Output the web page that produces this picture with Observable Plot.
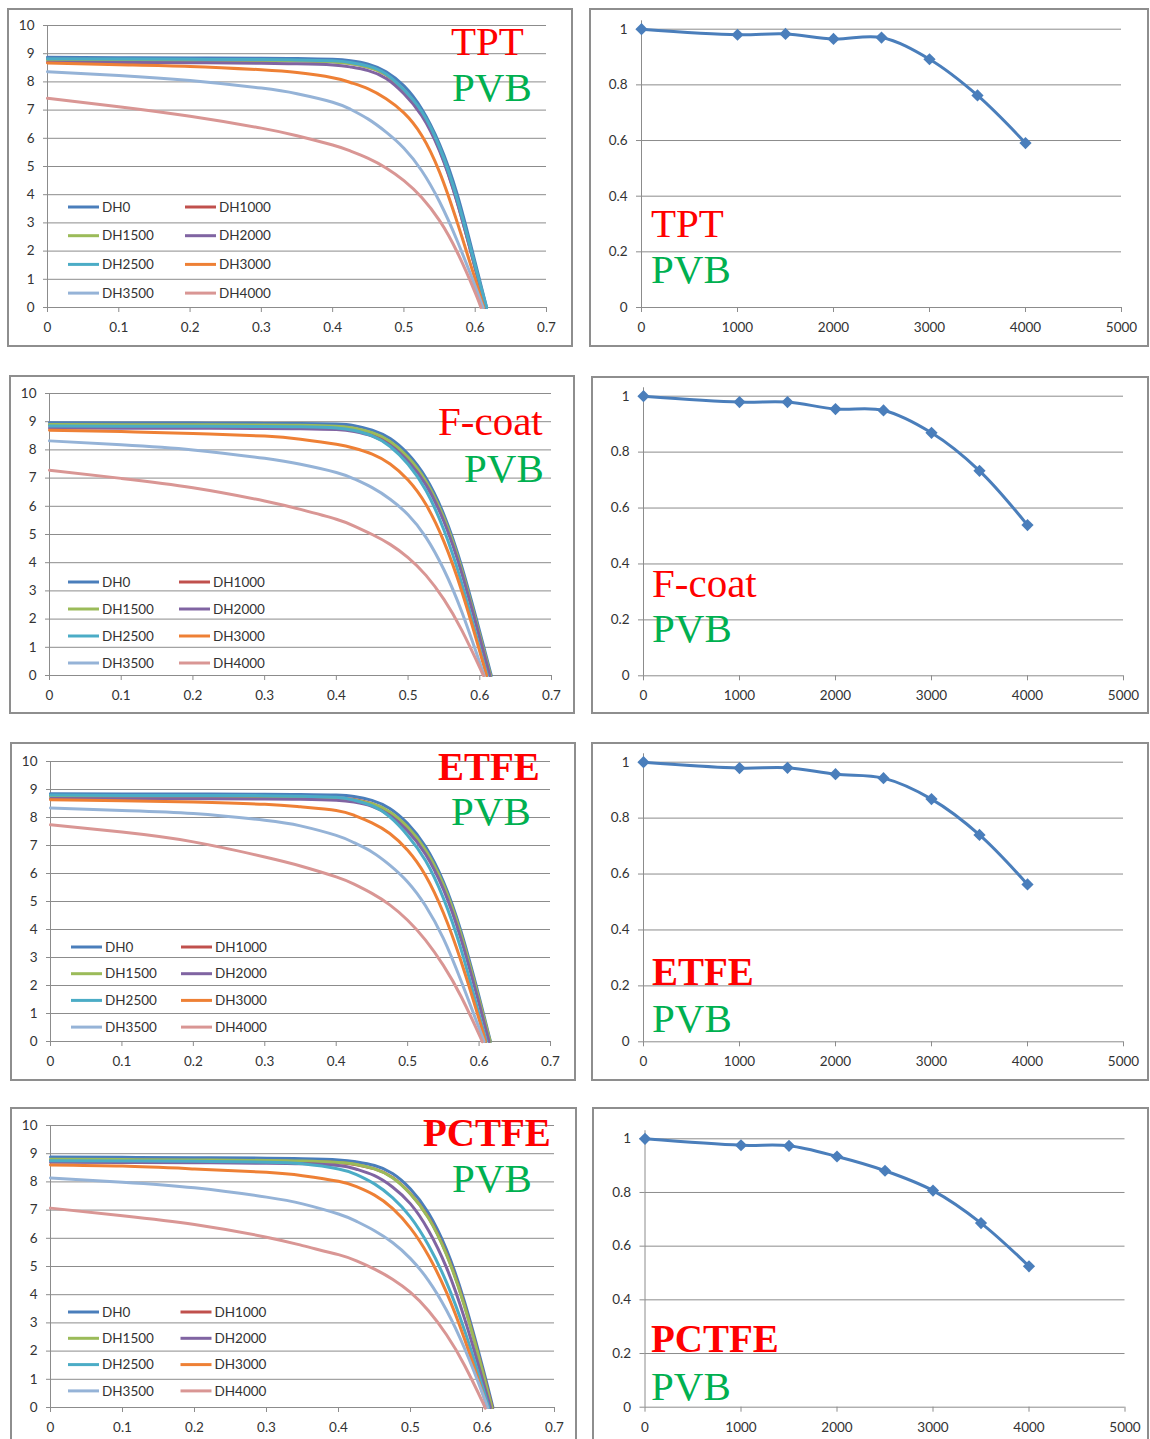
<!DOCTYPE html>
<html>
<head>
<meta charset="utf-8">
<script src="https://cdn.jsdelivr.net/npm/d3@7"></script>
<script src="https://cdn.jsdelivr.net/npm/@observablehq/plot@0.6"></script>
<style>
  html, body { margin: 0; padding: 0; background: #fff; }
  #page { position: relative; width: 1150px; height: 1439px; overflow: hidden; }
  .panel { position: absolute; outline: 2px solid #8e8e8e; outline-offset: -2px; background: #fff; }
  .panel svg { display: block; }
</style>
</head>
<body>
<div id="page"></div>
<script>
// Damp-heat exposure steps (hours) and legend names of the I-V curves
const series = ["DH0", "DH1000", "DH1500", "DH2000", "DH2500", "DH3000", "DH3500", "DH4000"];
const seriesColors = ["#4A7EBB", "#C0504D", "#9BBB59", "#8064A2", "#4BACC6", "#EE8035", "#95B3D7", "#D99694"];

// Front sheet of each module row; every module uses PVB as encapsulant
const frontSheets = ["TPT", "F-coat", "ETFE", "PCTFE"];
const encapsulant = "PVB";

// Voltage (V) at which each current is read
const voltage = [0, 0.1, 0.2, 0.3, 0.35, 0.4, 0.425, 0.45, 0.475, 0.5, 0.525, 0.55, 0.575, 0.6];

// Current (A) per curve, rows follow `series`; voc* is the open-circuit voltage of each curve
const ivTPT = [
  [8.87, 8.86, 8.85, 8.84, 8.83, 8.80, 8.75, 8.63, 8.36, 7.86, 7.04, 5.79, 3.99, 1.59],
  [8.80, 8.79, 8.78, 8.77, 8.76, 8.72, 8.66, 8.53, 8.25, 7.68, 6.88, 5.60, 3.72, 1.40],
  [8.78, 8.77, 8.76, 8.75, 8.74, 8.71, 8.65, 8.52, 8.25, 7.70, 6.92, 5.65, 3.78, 1.42],
  [8.70, 8.69, 8.68, 8.66, 8.64, 8.60, 8.53, 8.40, 8.12, 7.58, 6.80, 5.55, 3.70, 1.40],
  [8.82, 8.81, 8.80, 8.79, 8.78, 8.75, 8.69, 8.56, 8.28, 7.72, 6.95, 5.68, 3.82, 1.48],
  [8.67, 8.61, 8.55, 8.43, 8.33, 8.15, 7.98, 7.75, 7.40, 6.90, 6.10, 4.80, 3.00, 1.00],
  [8.36, 8.23, 8.05, 7.78, 7.58, 7.28, 7.03, 6.68, 6.22, 5.65, 4.85, 3.75, 2.35, 0.75],
  [7.42, 7.12, 6.78, 6.36, 6.09, 5.76, 5.55, 5.29, 4.95, 4.50, 3.90, 3.08, 1.95, 0.53]
];
const vocTPT = [0.616, 0.615, 0.615, 0.615, 0.616, 0.612, 0.611, 0.608];

const ivFcoat = [
  [8.96, 8.95, 8.95, 8.94, 8.94, 8.92, 8.86, 8.70, 8.40, 7.85, 7.00, 5.70, 3.85, 1.55],
  [8.88, 8.87, 8.87, 8.86, 8.85, 8.82, 8.75, 8.58, 8.25, 7.68, 6.83, 5.53, 3.68, 1.38],
  [8.90, 8.89, 8.89, 8.88, 8.87, 8.84, 8.77, 8.61, 8.30, 7.74, 6.88, 5.58, 3.73, 1.43],
  [8.78, 8.77, 8.77, 8.76, 8.75, 8.72, 8.65, 8.49, 8.17, 7.60, 6.76, 5.46, 3.62, 1.33],
  [8.85, 8.84, 8.84, 8.83, 8.82, 8.78, 8.69, 8.50, 8.12, 7.49, 6.56, 5.16, 3.26, 0.96],
  [8.70, 8.65, 8.58, 8.49, 8.38, 8.20, 8.06, 7.85, 7.50, 6.93, 6.06, 4.75, 2.98, 0.85],
  [8.32, 8.18, 8.00, 7.70, 7.49, 7.20, 6.97, 6.66, 6.25, 5.70, 4.90, 3.75, 2.25, 0.45],
  [7.28, 6.99, 6.66, 6.19, 5.89, 5.54, 5.30, 5.00, 4.65, 4.18, 3.55, 2.70, 1.60, 0.28]
];
const vocFcoat = [0.616, 0.6145, 0.615, 0.614, 0.6105, 0.6094, 0.606, 0.605];

const ivETFE = [
  [8.85, 8.84, 8.84, 8.83, 8.82, 8.80, 8.75, 8.61, 8.32, 7.78, 6.96, 5.71, 3.91, 1.60],
  [8.76, 8.75, 8.75, 8.74, 8.73, 8.70, 8.64, 8.49, 8.18, 7.62, 6.80, 5.56, 3.76, 1.46],
  [8.75, 8.74, 8.74, 8.73, 8.72, 8.69, 8.63, 8.49, 8.20, 7.66, 6.84, 5.60, 3.80, 1.50],
  [8.68, 8.67, 8.67, 8.66, 8.65, 8.62, 8.55, 8.40, 8.08, 7.52, 6.69, 5.44, 3.64, 1.36],
  [8.80, 8.79, 8.79, 8.78, 8.76, 8.72, 8.62, 8.42, 8.02, 7.36, 6.46, 5.12, 3.27, 0.97],
  [8.63, 8.60, 8.55, 8.47, 8.38, 8.25, 8.08, 7.81, 7.43, 6.83, 5.93, 4.60, 2.85, 0.80],
  [8.34, 8.25, 8.14, 7.90, 7.70, 7.36, 7.10, 6.77, 6.30, 5.70, 4.85, 3.68, 2.15, 0.48],
  [7.74, 7.48, 7.13, 6.59, 6.27, 5.88, 5.62, 5.29, 4.88, 4.33, 3.62, 2.72, 1.60, 0.25]
];
const vocETFE = [0.616, 0.615, 0.6155, 0.614, 0.6103, 0.609, 0.607, 0.604];

const ivPCTFE = [
  [8.88, 8.87, 8.86, 8.84, 8.82, 8.78, 8.71, 8.58, 8.30, 7.75, 6.90, 5.60, 3.75, 1.45],
  [8.78, 8.77, 8.76, 8.74, 8.72, 8.68, 8.61, 8.46, 8.16, 7.58, 6.74, 5.45, 3.62, 1.32],
  [8.80, 8.79, 8.78, 8.76, 8.74, 8.69, 8.62, 8.46, 8.15, 7.57, 6.72, 5.42, 3.59, 1.29],
  [8.70, 8.69, 8.68, 8.66, 8.64, 8.58, 8.45, 8.22, 7.82, 7.22, 6.28, 4.96, 3.16, 1.00],
  [8.75, 8.74, 8.73, 8.70, 8.64, 8.46, 8.26, 7.93, 7.44, 6.75, 5.75, 4.44, 2.74, 0.74],
  [8.60, 8.56, 8.46, 8.34, 8.22, 8.02, 7.83, 7.53, 7.06, 6.36, 5.38, 4.08, 2.43, 0.53],
  [8.14, 7.99, 7.79, 7.46, 7.22, 6.86, 6.60, 6.27, 5.85, 5.28, 4.50, 3.45, 2.10, 0.50],
  [7.07, 6.80, 6.49, 6.04, 5.74, 5.42, 5.20, 4.91, 4.55, 4.08, 3.43, 2.58, 1.50, 0.20]
];
const vocPCTFE = [0.6145, 0.6135, 0.613, 0.611, 0.6086, 0.6065, 0.607, 0.6032];

// Normalised maximum power versus damp-heat hours
const hours = [0, 1000, 1500, 2000, 2500, 3000, 3500, 4000];
const pmaxTPT   = [1.000, 0.980, 0.983, 0.965, 0.970, 0.892, 0.762, 0.591];
const pmaxFcoat = [1.000, 0.979, 0.979, 0.954, 0.949, 0.869, 0.733, 0.539];
const pmaxETFE  = [1.000, 0.979, 0.980, 0.957, 0.943, 0.868, 0.740, 0.563];
const pmaxPCTFE = [1.000, 0.976, 0.974, 0.934, 0.881, 0.807, 0.686, 0.525];

// Axis ticks
const ivTicksX = [0, 0.1, 0.2, 0.3, 0.4, 0.5, 0.6, 0.7];
const ivTicksY = [0, 1, 2, 3, 4, 5, 6, 7, 8, 9, 10];
const pmaxTicksX = [0, 1000, 2000, 3000, 4000, 5000];
const pmaxTicksY = [0, 0.2, 0.4, 0.6, 0.8, 1];

const ivSets = [[ivTPT, vocTPT], [ivFcoat, vocFcoat], [ivETFE, vocETFE], [ivPCTFE, vocPCTFE]];
const pmaxSets = [pmaxTPT, pmaxFcoat, pmaxETFE, pmaxPCTFE];

// Page layout: box = [left, top, width, height]; plot = [x at min, x at max, y at top value, y at 0]
const ivLayout = [
  {box: [7, 8, 566, 339],    plot: [47, 546, 25, 307],    legend: {x: 68, y: 207, dx: 117, dy: 28.7},  front: [451, 55],   pvb: [452, 101]},
  {box: [9, 375, 566, 339],  plot: [49, 551, 393, 675],   legend: {x: 68, y: 582, dx: 111, dy: 27},    front: [438, 435],  pvb: [464, 482]},
  {box: [10, 742, 566, 339], plot: [50, 550, 761, 1041],  legend: {x: 71, y: 947, dx: 110, dy: 26.7}, front: [438, 780],  pvb: [451, 825]},
  {box: [10, 1107, 567, 339],plot: [50, 554, 1125, 1407], legend: {x: 68, y: 1312, dx: 112.5, dy: 26.3}, front: [423, 1146], pvb: [452, 1192]}
];
const pmaxLayout = [
  {box: [589, 8, 560, 339],   plot: [641, 1121, 28.7, 307],      front: [651, 237],  pvb: [651, 283]},
  {box: [591, 376, 558, 338], plot: [643, 1123, 395.7, 675.3],   front: [652, 597],  pvb: [652, 642]},
  {box: [591, 742, 558, 339], plot: [643, 1123, 761.7, 1041.3],  front: [652, 985],  pvb: [652, 1032]},
  {box: [592, 1107, 557, 339],plot: [644.5, 1124.5, 1138.3, 1406.7], front: [651, 1352], pvb: [651, 1400]}
];
const frontWeight = ["normal", "normal", "bold", "bold"];
const frontSize = [41, 41, 39, 39];

const gridColor = "#8c8c8c";
const textColor = "#333";
const pmaxColor = "#4A7EBB";
const page = document.getElementById("page");

function addPanel(box, svg) {
  const div = document.createElement("div");
  div.className = "panel";
  div.style.left = box[0] + "px";
  div.style.top = box[1] + "px";
  div.style.width = box[2] + "px";
  div.style.height = box[3] + "px";
  div.appendChild(svg);
  page.appendChild(div);
}

function addSheetLabels(svg, lay, k) {
  const [bx, by] = lay.box;
  const s = d3.select(svg);
  s.append("text")
    .attr("x", lay.front[0] - bx).attr("y", lay.front[1] - by)
    .attr("text-anchor", "start")
    .attr("font-family", "'Liberation Serif', 'DejaVu Serif', serif")
    .attr("font-size", frontSize[k]).attr("font-weight", frontWeight[k])
    .attr("fill", "#FF0000").text(frontSheets[k]);
  s.append("text")
    .attr("x", lay.pvb[0] - bx).attr("y", lay.pvb[1] - by)
    .attr("text-anchor", "start")
    .attr("font-family", "'Liberation Serif', 'DejaVu Serif', serif")
    .attr("font-size", 41).attr("fill", "#00B050").text(encapsulant);
}

// I-V curves
ivSets.forEach(([iv, voc], k) => {
  const lay = ivLayout[k];
  const [bx, by, bw, bh] = lay.box;
  const [x0, x1, yT, y0] = lay.plot;
  const rows = [];
  series.forEach((name, s) => {
    voltage.forEach((v, j) => rows.push({series: name, v, i: iv[s][j]}));
    rows.push({series: name, v: voc[s], i: 0});
  });
  const chart = Plot.plot({
    width: bw, height: bh,
    marginLeft: x0 - bx, marginRight: bx + bw - x1,
    marginTop: yT - by, marginBottom: by + bh - y0,
    style: {background: "transparent", fontFamily: "Lato, 'Noto Sans', sans-serif", fontSize: "13.5px", color: textColor},
    x: {domain: [0, 0.7]},
    y: {domain: [0, 10]},
    color: {domain: series, range: seriesColors},
    marks: [
      Plot.gridY(ivTicksY, {stroke: gridColor, strokeOpacity: 1}),
      Plot.ruleX([0], {stroke: gridColor}),
      Plot.axisY(ivTicksY, {tickSize: 4, tickPadding: 9, stroke: gridColor, fill: textColor, label: null}),
      Plot.axisX(ivTicksX, {tickSize: 5, tickPadding: 10, stroke: gridColor, fill: textColor, label: null, tickFormat: d => String(d)}),
      Plot.line(rows, {x: "v", y: "i", z: "series", stroke: "series", strokeWidth: 3, curve: "natural"})
    ]
  });
  // two-column legend inside the plot area
  const s = d3.select(chart);
  const lg = lay.legend;
  series.forEach((name, n) => {
    const lx = lg.x - bx + (n % 2) * lg.dx;
    const ly = lg.y - by + Math.floor(n / 2) * lg.dy;
    s.append("line").attr("x1", lx).attr("x2", lx + 31).attr("y1", ly).attr("y2", ly)
      .attr("stroke", seriesColors[n]).attr("stroke-width", 3);
    s.append("text").attr("x", lx + 34).attr("y", ly).attr("dy", "0.35em")
      .attr("text-anchor", "start")
      .attr("font-size", 13.5).attr("fill", textColor).text(name);
  });
  addSheetLabels(chart, lay, k);
  addPanel(lay.box, chart);
});

// Normalised Pmax versus damp-heat time
pmaxSets.forEach((pmax, k) => {
  const lay = pmaxLayout[k];
  const [bx, by, bw, bh] = lay.box;
  const [x0, x1, y1, y0] = lay.plot;
  const top = 1.03;
  const yTop = y0 - (y0 - y1) * top;
  const rows = hours.map((h, j) => ({h, p: pmax[j]}));
  const chart = Plot.plot({
    width: bw, height: bh,
    marginLeft: x0 - bx, marginRight: bx + bw - x1,
    marginTop: yTop - by, marginBottom: by + bh - y0,
    style: {background: "transparent", fontFamily: "Lato, 'Noto Sans', sans-serif", fontSize: "13.5px", color: textColor},
    x: {domain: [0, 5000]},
    y: {domain: [0, top]},
    marks: [
      Plot.gridY(pmaxTicksY, {stroke: gridColor, strokeOpacity: 1}),
      Plot.ruleX([0], {stroke: gridColor}),
      Plot.axisY(pmaxTicksY, {tickSize: 5, tickPadding: 9, stroke: gridColor, fill: textColor, label: null, tickFormat: d => String(d)}),
      Plot.axisX(pmaxTicksX, {tickSize: 5, tickPadding: 10, stroke: gridColor, fill: textColor, label: null, tickFormat: d => String(d)}),
      Plot.line(rows, {x: "h", y: "p", stroke: pmaxColor, strokeWidth: 3, curve: "catmull-rom"}),
      Plot.dot(rows, {x: "h", y: "p", symbol: "diamond2", r: 5.5, fill: pmaxColor, stroke: "none"})
    ]
  });
  addSheetLabels(chart, lay, k);
  addPanel(lay.box, chart);
});
</script>
</body>
</html>
